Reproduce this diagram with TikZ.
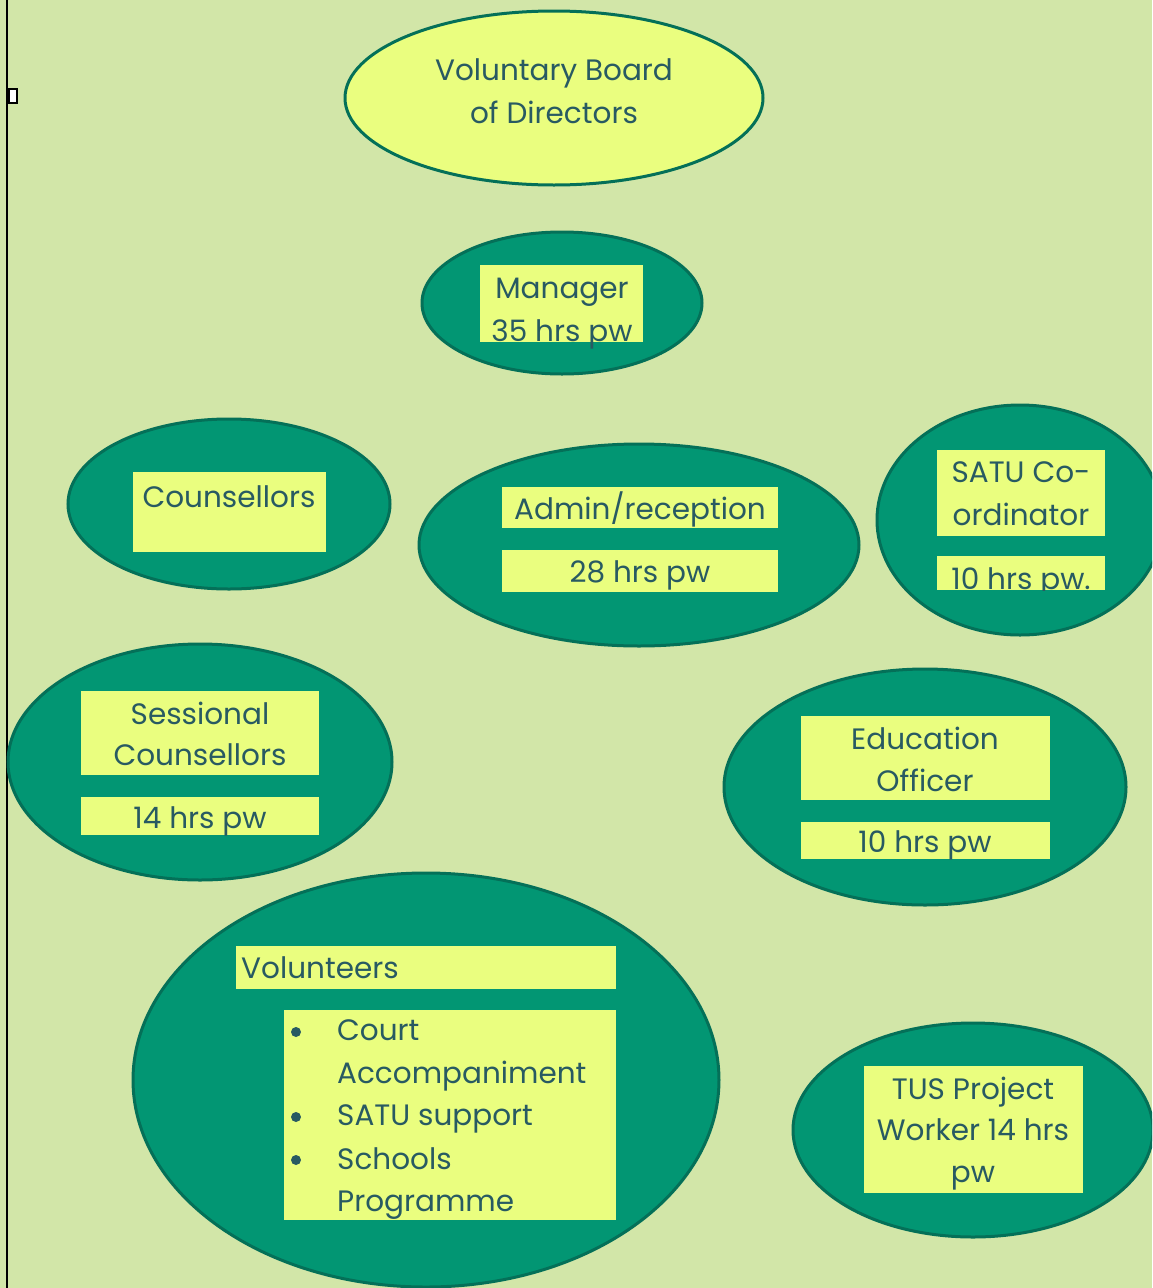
\documentclass[tikz,border=0pt]{standalone}
\usepackage{fontspec}
\setmainfont{Poppins}
\definecolor{bg}{RGB}{210,230,168}
\definecolor{teal}{RGB}{2,150,115}
\definecolor{edge}{RGB}{4,112,88}
\definecolor{yel}{RGB}{234,254,127}
\definecolor{ink}{RGB}{40,90,98}
\tikzset{
  oval/.style={draw=edge, line width=3pt, fill=teal},
  ybox/.style={fill=yel, draw=none, inner sep=0pt, outer sep=0pt},
  txt/.style={text=ink, inner sep=0pt, anchor=base, font=\fontsize{29.5}{42}\selectfont},
  ltxt/.style={txt, anchor=base west},
  bul/.style={circle, fill=ink, inner sep=0pt, minimum size=10pt},
}
\begin{document}
\begin{tikzpicture}[x=1pt,y=-1pt]
\useasboundingbox (0,0) rectangle (1152,1288);
\clip (0,0) rectangle (1152,1288);
\fill[bg] (0,0) rectangle (1152,1288);
\draw[line width=2pt] (7,-5) -- (7,1295);
\node[draw=black, line width=1.5pt, fill=white, minimum width=8pt, minimum height=14pt, inner sep=0pt] (mark) at (13,96) {};

% Board
\draw[oval, fill=yel] (554,98) ellipse [x radius=209pt, y radius=87pt];
\node[txt] (board1) at (554,80) {Voluntary Board};
\node[txt] (board2) at (554,123) {of Directors};

% Manager
\draw[oval] (562,303) ellipse [x radius=140pt, y radius=71pt];
\node[ybox, minimum width=163pt, minimum height=77pt] (mgrbox) at (561.5,303.5) {};
\node[txt] (mgr1) at (562,298) {Manager};
\node[txt] (mgr2) at (562,341) {35 hrs pw};

% Counsellors
\draw[oval] (229,504) ellipse [x radius=161pt, y radius=85pt];
\node[ybox, minimum width=193pt, minimum height=80pt] (cbox) at (229.5,512) {};
\node[txt] (couns) at (229,507) {Counsellors};

% Admin
\draw[oval] (639,545) ellipse [x radius=220pt, y radius=101pt];
\node[ybox, minimum width=276pt, minimum height=41pt] (abox1) at (640,507.5) {};
\node[ybox, minimum width=276pt, minimum height=42pt] (abox2) at (640,571) {};
\node[txt] (admin) at (640,519) {Admin/reception};
\node[txt] (adminh) at (640,582) {28 hrs pw};

% SATU
\draw[oval] (1020,520) ellipse [x radius=143pt, y radius=115pt];
\node[ybox, minimum width=168pt, minimum height=86pt] (sbox1) at (1021,493) {};
\node[txt] (satu1) at (1021,482) {SATU Co-};
\node[txt] (satu2) at (1021,525) {ordinator};
\begin{scope}
\clip (937,556) rectangle (1105,590);
\node[ybox, minimum width=168pt, minimum height=34pt] (sbox2) at (1021,573) {};
\node[txt] (satuh) at (1021,589) {10 hrs pw.};
\end{scope}

% Sessional
\draw[oval] (200,762) ellipse [x radius=192pt, y radius=118pt];
\node[ybox, minimum width=238pt, minimum height=84pt] (ssbox1) at (200,733) {};
\node[ybox, minimum width=238pt, minimum height=38pt] (ssbox2) at (200,816) {};
\node[txt] (sess1) at (200,724) {Sessional};
\node[txt] (sess2) at (200,765) {Counsellors};
\begin{scope}
\clip (81,797) rectangle (319,835);
\node[txt] (sessh) at (200,828) {14 hrs pw};
\end{scope}

% Education
\draw[oval] (925,787) ellipse [x radius=201pt, y radius=118pt];
\node[ybox, minimum width=249pt, minimum height=84pt] (ebox1) at (925.5,758) {};
\node[ybox, minimum width=249pt, minimum height=37pt] (ebox2) at (925.5,840.5) {};
\node[txt] (edu1) at (925,749) {Education};
\node[txt] (edu2) at (925,791) {Officer};
\begin{scope}
\clip (801,822) rectangle (1050,859);
\node[txt] (eduh) at (925,852) {10 hrs pw};
\end{scope}

% Volunteers
\draw[oval] (426,1080) ellipse [x radius=293pt, y radius=207pt];
\node[ybox, minimum width=380pt, minimum height=43pt] (vbox1) at (426,967.5) {};
\node[ybox, minimum width=332pt, minimum height=210pt] (vbox2) at (450,1115) {};
\node[ltxt] (vol) at (241,978) {Volunteers};
\node[bul] (b1) at (296,1032) {};
\node[bul] (b2) at (296,1117) {};
\node[bul] (b3) at (296,1160) {};
\node[ltxt] (l1) at (337,1040) {Court};
\node[ltxt] (l2) at (337,1083) {Accompaniment};
\node[ltxt] (l3) at (337,1125) {SATU support};
\node[ltxt] (l4) at (337,1169) {Schools};
\node[ltxt] (l5) at (337,1211) {Programme};

% TUS
\draw[oval] (973,1130) ellipse [x radius=180pt, y radius=107pt];
\node[ybox, minimum width=219pt, minimum height=127pt] (tbox) at (973.5,1129.5) {};
\node[txt] (tus1) at (973,1099) {TUS Project};
\node[txt] (tus2) at (973,1140) {Worker 14 hrs};
\node[txt] (tus3) at (973,1182) {pw};
\end{tikzpicture}
\end{document}
